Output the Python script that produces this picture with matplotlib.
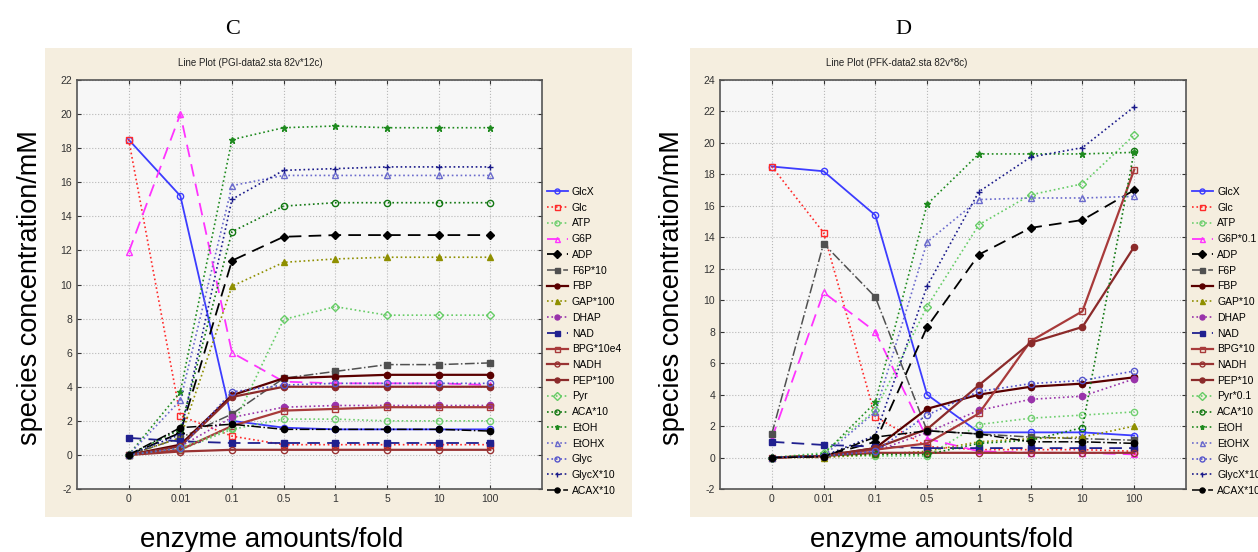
import matplotlib.pyplot as plt
from matplotlib.patches import Rectangle

plt.rcParams['font.family'] = ['Liberation Sans', 'DejaVu Sans']
plt.rcParams['axes.unicode_minus'] = False

fold_labels = ["0", "0.01", "0.1", "0.5", "1", "5", "10", "100"]

names_c = ["GlcX", "Glc", "ATP", "G6P", "ADP", "F6P*10", "FBP", "GAP*100",
           "DHAP", "NAD", "BPG*10e4", "NADH", "PEP*100", "Pyr", "ACA*10",
           "EtOH", "EtOHX", "Glyc", "GlycX*10", "ACAX*10"]
names_d = ["GlcX", "Glc", "ATP", "G6P*0.1", "ADP", "F6P", "FBP", "GAP*10",
           "DHAP", "NAD", "BPG*10", "NADH", "PEP*10", "Pyr*0.1", "ACA*10",
           "EtOH", "EtOHX", "Glyc", "GlycX*10", "ACAX*10"]

# panel C (PGI)
c_glcx = [18.5, 15.2, 2.0, 1.6, 1.5, 1.5, 1.5, 1.5]
c_glc = [18.5, 2.3, 1.1, 0.6, 0.6, 0.6, 0.6, 0.6]
c_atp = [0, 0.3, 1.5, 2.1, 2.1, 2.0, 2.0, 2.0]
c_g6p = [11.9, 20.0, 6.0, 4.3, 4.2, 4.2, 4.2, 4.1]
c_adp = [0, 1.3, 11.4, 12.8, 12.9, 12.9, 12.9, 12.9]
c_f6p = [0, 1.0, 2.4, 4.5, 4.9, 5.3, 5.3, 5.4]
c_fbp = [0, 0.6, 3.5, 4.5, 4.6, 4.7, 4.7, 4.7]
c_gap = [0, 1.0, 9.9, 11.3, 11.5, 11.6, 11.6, 11.6]
c_dhap = [0, 0.5, 2.2, 2.8, 2.9, 2.9, 2.9, 2.9]
c_nad = [1.0, 0.8, 0.7, 0.7, 0.7, 0.7, 0.7, 0.7]
c_bpg = [0, 0.3, 1.7, 2.6, 2.7, 2.8, 2.8, 2.8]
c_nadh = [0, 0.2, 0.3, 0.3, 0.3, 0.3, 0.3, 0.3]
c_pep = [0, 0.5, 3.4, 4.0, 4.0, 4.0, 4.0, 4.0]
c_pyr = [0, 0.4, 1.6, 7.95, 8.7, 8.2, 8.2, 8.2]
c_aca = [0, 1.5, 13.1, 14.6, 14.8, 14.8, 14.8, 14.8]
c_etoh = [0, 3.7, 18.5, 19.2, 19.3, 19.2, 19.2, 19.2]
c_etohx = [0, 3.2, 15.8, 16.4, 16.4, 16.4, 16.4, 16.4]
c_glyc = [0, 0.4, 3.7, 4.1, 4.2, 4.2, 4.2, 4.2]
c_glycx = [0, 1.2, 15.0, 16.7, 16.8, 16.9, 16.9, 16.9]
c_acax = [0, 1.6, 1.8, 1.5, 1.5, 1.5, 1.5, 1.4]

# panel D (PFK)
d_glcx = [18.5, 18.2, 15.4, 4.0, 1.6, 1.6, 1.6, 1.4]
d_glc = [18.5, 14.3, 2.6, 0.7, 0.5, 0.5, 0.5, 0.4]
d_atp = [0, 0.1, 0.1, 0.1, 2.1, 2.5, 2.7, 2.9]
d_g6p = [1.2, 10.5, 8.0, 1.2, 0.4, 0.3, 0.3, 0.2]
d_adp = [0, 0.1, 1.0, 8.3, 12.9, 14.6, 15.1, 17.0]
d_f6p = [1.5, 13.6, 10.2, 1.7, 1.5, 1.3, 1.2, 1.1]
d_fbp = [0, 0.1, 0.6, 3.1, 4.0, 4.5, 4.7, 5.1]
d_gap = [0, 0.0, 0.2, 0.4, 1.0, 1.2, 1.3, 2.0]
d_dhap = [0, 0.1, 0.4, 1.6, 3.0, 3.7, 3.9, 5.0]
d_nad = [1.0, 0.8, 0.7, 0.6, 0.6, 0.6, 0.6, 0.6]
d_bpg = [0, 0.1, 0.5, 0.9, 2.8, 7.4, 9.3, 18.3]
d_nadh = [0, 0.1, 0.3, 0.3, 0.3, 0.3, 0.3, 0.3]
d_pep = [0, 0.1, 0.6, 1.8, 4.6, 7.3, 8.3, 13.4]
d_pyr = [0, 0.3, 3.0, 9.6, 14.8, 16.7, 17.4, 20.5]
d_aca = [0, 0.1, 0.2, 0.2, 0.9, 1.1, 1.9, 19.5]
d_etoh = [0, 0.2, 3.5, 16.1, 19.3, 19.3, 19.3, 19.4]
d_etohx = [0, 0.1, 2.9, 13.7, 16.4, 16.5, 16.5, 16.6]
d_glyc = [0, 0.1, 0.4, 2.7, 4.2, 4.7, 4.9, 5.5]
d_glycx = [0, 0.1, 1.4, 10.9, 16.9, 19.1, 19.7, 22.3]
d_acax = [0, 0.05, 1.3, 1.7, 1.5, 1.0, 1.0, 0.9]

series_c = [c_glcx, c_glc, c_atp, c_g6p, c_adp, c_f6p, c_fbp, c_gap, c_dhap,
            c_nad, c_bpg, c_nadh, c_pep, c_pyr, c_aca, c_etoh, c_etohx,
            c_glyc, c_glycx, c_acax]
series_d = [d_glcx, d_glc, d_atp, d_g6p, d_adp, d_f6p, d_fbp, d_gap, d_dhap,
            d_nad, d_bpg, d_nadh, d_pep, d_pyr, d_aca, d_etoh, d_etohx,
            d_glyc, d_glycx, d_acax]

longdash = (0, (7, 4))
# colour, line style, marker, filled, line width
styles = [
    ('#3c3cff', '-', 'o', False, 1.3),
    ('#ff2a2a', ':', 's', False, 1.2),
    ('#6fcf6f', ':', 'o', False, 1.2),
    ('#ff33ff', longdash, '^', False, 1.3),
    ('#000000', longdash, 'D', True, 1.3),
    ('#505050', '-.', 's', True, 1.1),
    ('#5a0000', '-', 'o', True, 1.6),
    ('#8f8f00', ':', '^', True, 1.2),
    ('#9933aa', ':', 'o', True, 1.2),
    ('#20208f', longdash, 's', True, 1.3),
    ('#a83a3a', '-', 's', False, 1.6),
    ('#993333', '-', 'o', False, 1.6),
    ('#8b2a2a', '-', 'o', True, 1.6),
    ('#66cc66', ':', 'D', False, 1.2),
    ('#117711', ':', 'o', False, 1.2),
    ('#1f8a1f', ':', '*', True, 1.2),
    ('#6a6acc', ':', '^', False, 1.2),
    ('#5555cc', ':', 'o', False, 1.2),
    ('#1a1a8a', ':', '+', True, 1.2),
    ('#000000', '-.', 'o', True, 1.1),
]


def draw_panel(fig, rect, series, names, ymax, legend_x):
    ax = fig.add_axes(rect)
    ax.set_zorder(2)
    ax.set_facecolor('#f7f7f7')
    x = list(range(len(fold_labels)))
    for vals, name, (col, ls, mk, filled, lw) in zip(series, names, styles):
        ax.plot(x, vals, color=col, linestyle=ls, marker=mk, markersize=4.5,
                linewidth=lw, markerfacecolor=col if filled else 'none',
                markeredgecolor=col, label=name)
    ax.set_xlim(-1, 8)
    ax.set_ylim(-2, ymax)
    ax.set_xticks(x)
    ax.set_xticklabels(fold_labels)
    ax.set_yticks(range(-2, ymax + 1, 2))
    ax.tick_params(direction='in', labelsize=7.5, colors='#333333',
                   top=True, right=True, length=3)
    ax.grid(True, color='#b8b8b8', linestyle=':', linewidth=0.8)
    for sp in ax.spines.values():
        sp.set_color('#555555')
        sp.set_linewidth(1.2)
    ax.legend(loc='upper left', bbox_to_anchor=(legend_x, 1 - 187 / 552),
              bbox_transform=fig.transFigure, frameon=False, fontsize=7.5,
              handlelength=2.0, handletextpad=0.4, labelspacing=0.55,
              borderpad=0, borderaxespad=0, markerscale=0.8)
    return ax


def main():
    fig = plt.figure(figsize=(12.58, 5.52), dpi=100)

    beige = '#f5eedf'
    fig.patches.append(Rectangle((45 / 1258, 1 - 517 / 552), 587 / 1258, 469 / 552,
                                 transform=fig.transFigure, facecolor=beige,
                                 edgecolor='none', zorder=-10))
    fig.patches.append(Rectangle((690 / 1258, 1 - 517 / 552), 568 / 1258, 469 / 552,
                                 transform=fig.transFigure, facecolor=beige,
                                 edgecolor='none', zorder=-10))

    draw_panel(fig, [77 / 1258, 63 / 552, 465 / 1258, 409 / 552],
               series_c, names_c, 22, 547 / 1258)
    draw_panel(fig, [720 / 1258, 63 / 552, 466 / 1258, 409 / 552],
               series_d, names_d, 24, 1192 / 1258)

    fig.text(233 / 1258, 1 - 29 / 552, "C", family='Liberation Serif',
             fontsize=16, ha='center', va='center')
    fig.text(903 / 1258, 1 - 29 / 552, "D", family='Liberation Serif',
             fontsize=16, ha='center', va='center')
    fig.text(250 / 1258, 1 - 63 / 552, "Line Plot (PGI-data2.sta 82v*12c)",
             fontsize=7, ha='center', va='center', color='#222222')
    fig.text(897 / 1258, 1 - 63 / 552, "Line Plot (PFK-data2.sta 82v*8c)",
             fontsize=7, ha='center', va='center', color='#222222')

    fig.text(30 / 1258, 1 - 288 / 552, "species concentration/mM", fontsize=19.5,
             rotation=90, ha='center', va='center')
    fig.text(672 / 1258, 1 - 288 / 552, "species concentration/mM", fontsize=19.5,
             rotation=90, ha='center', va='center')
    fig.text(272 / 1258, 1 - 540 / 552, "enzyme amounts/fold", fontsize=20,
             ha='center', va='center')
    fig.text(942 / 1258, 1 - 540 / 552, "enzyme amounts/fold", fontsize=20,
             ha='center', va='center')

    fig.savefig("out.png", dpi=100)


if __name__ == '__main__':
    main()
